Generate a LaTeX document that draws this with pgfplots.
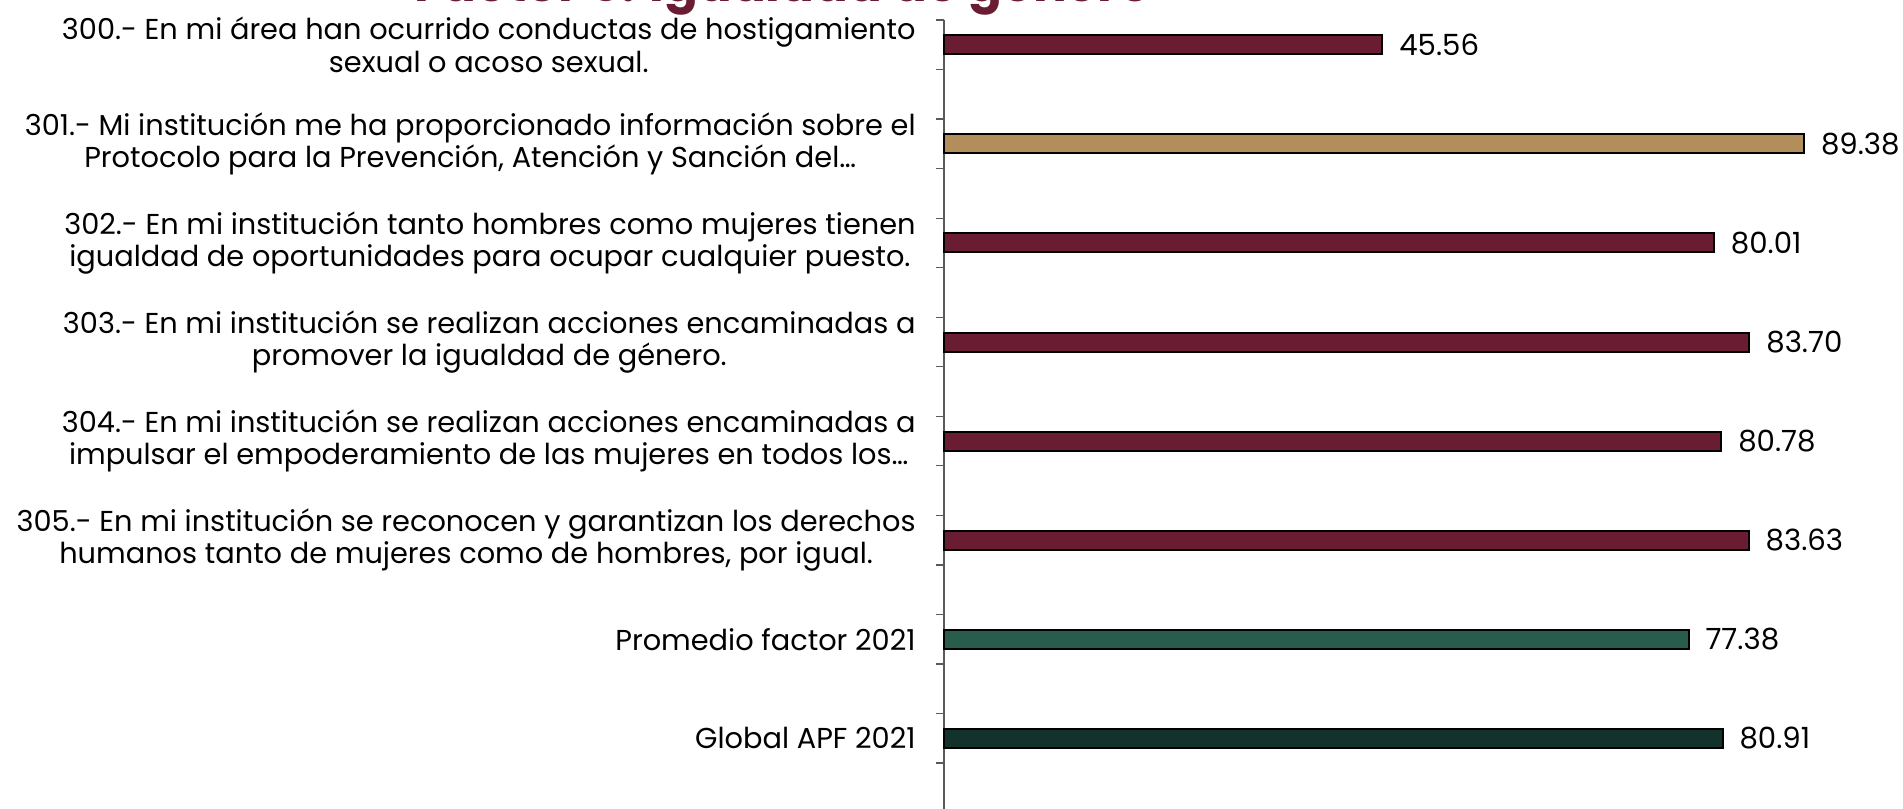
\documentclass[border=0pt]{standalone}
\usepackage{fontspec}
\setmainfont{Poppins}
\usepackage{pgfplots}
\pgfplotsset{compat=1.18}
\definecolor{guinda}{HTML}{691C32}
\definecolor{dorado}{HTML}{B38E5D}
\definecolor{verde}{HTML}{285C4D}
\definecolor{verdeosc}{HTML}{13322B}
\definecolor{ejegris}{HTML}{595959}
\begin{document}
\begin{tikzpicture}
\begin{axis}[
  at={(472pt,0pt)}, anchor=south west,
  scale only axis, width=481.1pt, height=396.3pt,
  xbar, bar width=9.5pt, bar shift=0pt,
  xmin=0, xmax=100, ymin=-0.25, ymax=7.75, y dir=reverse,
  axis x line=none, axis y line*=left,
  y axis line style={ejegris, line width=0.6pt},
  ytick={-0.25,0.25,0.75,1.25,1.75,2.25,2.75,3.25,3.75,4.25,4.75,5.25,5.75,6.25,6.75,7.25,7.75},
  yticklabels={},
  tick align=outside, major tick length=4pt,
  ytick style={ejegris, line width=0.6pt},
  extra y ticks={0,1,2,3,4,5,6,7},
  extra y tick labels={
    {300.- En mi área han ocurrido conductas de hostigamiento\\sexual o acoso sexual.},
    {301.- Mi institución me ha proporcionado información sobre el\\Protocolo para la Prevención, Atención y Sanción del…},
    {302.- En mi institución tanto hombres como mujeres tienen\\igualdad de oportunidades para ocupar cualquier puesto.},
    {303.- En mi institución se realizan acciones encaminadas a\\promover la igualdad de género.},
    {304.- En mi institución se realizan acciones encaminadas a\\impulsar el empoderamiento de las mujeres en todos los…},
    {305.- En mi institución se reconocen y garantizan los derechos\\humanos tanto de mujeres como de hombres, por igual.},
    {Promedio factor 2021},
    {Global APF 2021}},
  extra y tick style={major tick length=0pt, ytick style={draw=none}},
  yticklabel style={align=center, anchor=east, inner sep=0pt, xshift=-14pt,
    font=\fontsize{14.4pt}{16.2pt}\selectfont, text=black},
  nodes near coords={\pgfmathprintnumber[fixed,fixed zerofill,precision=2,assume math mode=true]{\pgfplotspointmeta}},
  nodes near coords style={font=\fontsize{14.6pt}{16pt}\selectfont, anchor=west, inner sep=0pt, xshift=8pt, text=black},
  every axis plot/.append style={draw=black, line width=1pt},
  clip=false,
]
\addplot[fill=guinda] coordinates {(45.56,0) (80.01,2) (83.70,3) (80.78,4) (83.63,5)};
\addplot[fill=dorado] coordinates {(89.38,1)};
\addplot[fill=verde] coordinates {(77.38,6)};
\addplot[fill=verdeosc] coordinates {(80.91,7)};
\end{axis}
\node[anchor=base, text=guinda, font=\fontsize{25pt}{30pt}\selectfont\bfseries] at (391.5pt,405.7pt) {Factor 9. Igualdad de género};
\pgfresetboundingbox
\useasboundingbox (0pt,1.8pt) rectangle (951.5pt,406.3pt);
\end{tikzpicture}
\end{document}
